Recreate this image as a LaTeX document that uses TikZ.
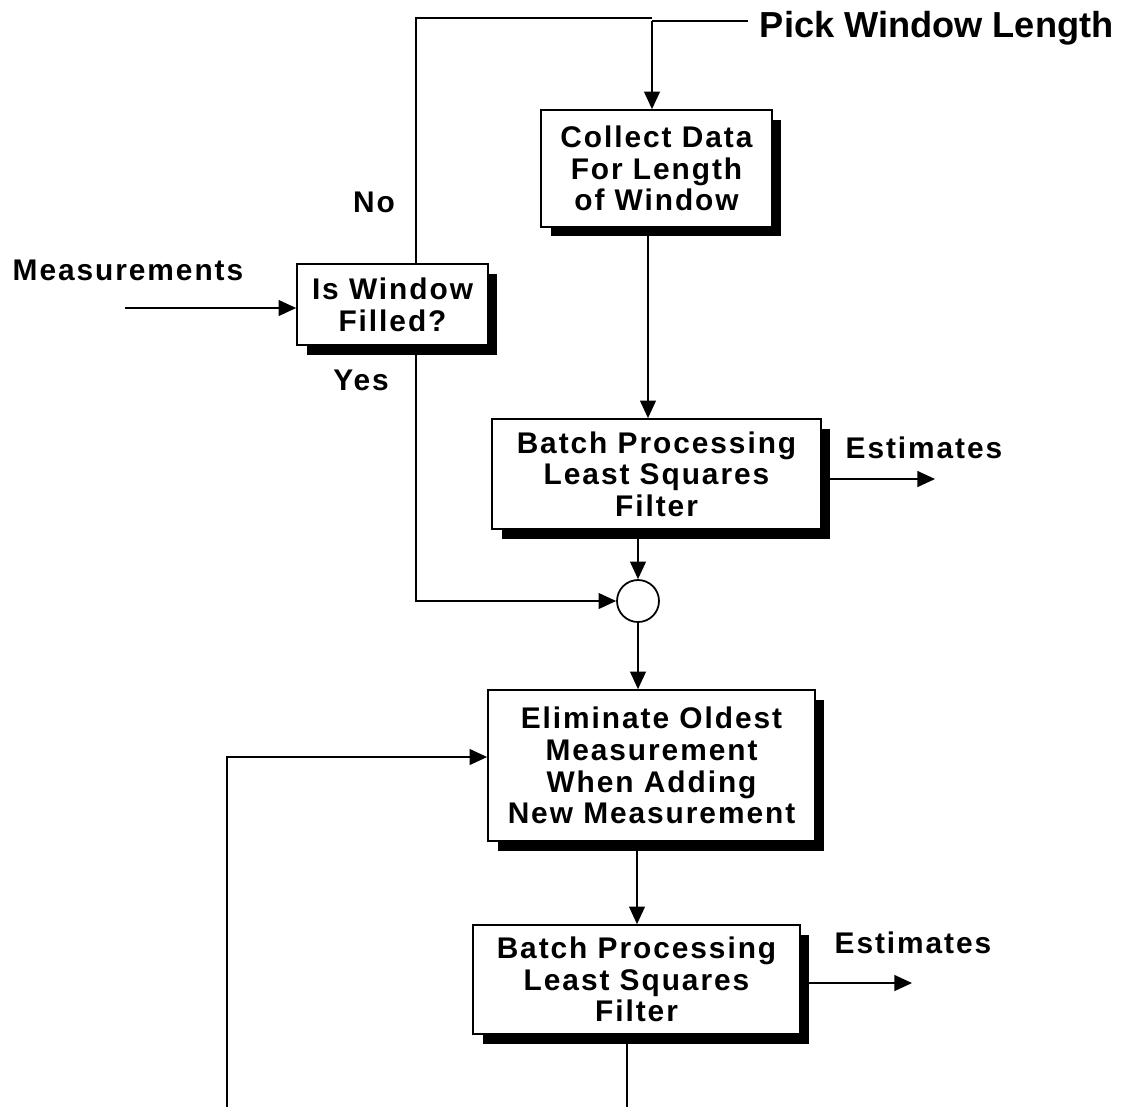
\documentclass[tikz,border=0pt]{standalone}
\usepackage{fontspec}
\setmainfont{Liberation Sans}
\newfontfamily\spacedfont{Liberation Sans}[LetterSpace=6.5]
\usetikzlibrary{arrows.meta,shadows}

\begin{document}
\begin{tikzpicture}[
    x=0.02cm,y=-0.02cm,
    font=\spacedfont\bfseries\fontsize{17}{18}\selectfont,
    >={Triangle[length=10pt,width=9pt]},
    line width=1pt,
    box/.style={rectangle,draw,fill=white,align=center,inner sep=2pt,
        drop shadow={shadow xshift=.19cm,shadow yshift=-.19cm,fill=black,opacity=1}},
    sum/.style={circle,draw,fill=white,minimum size=.84cm,inner sep=0pt},
    lbl/.style={inner sep=0pt},
    ]
    \useasboundingbox[fill=white] (0,0) rectangle (1125,1107);

    \node[box,minimum width=4.62cm,minimum height=2.34cm] (collect) at (656.5,168.5) {Collect Data\\For Length\\of Window};
    \node[box,minimum width=3.82cm,minimum height=1.62cm] (filled) at (392.5,304.5) {Is Window\\Filled?};
    \node[box,minimum width=6.58cm,minimum height=2.2cm] (batchA) at (656.5,474) {Batch Processing\\Least Squares\\Filter};
    \node[sum] (sum) at (638,601) {};
    \node[box,minimum width=6.54cm,minimum height=3.02cm] (elim) at (651.5,765.5) {Eliminate Oldest\\Measurement\\When Adding\\New Measurement};
    \node[box,minimum width=6.54cm,minimum height=2.18cm] (batchB) at (636.5,979.5) {Batch Processing\\Least Squares\\Filter};

    \node[lbl,anchor=west,font=\bfseries\fontsize{20.6}{24}\selectfont] (pick) at (759,28) {Pick Window Length};
    \node[lbl] (meas) at (128,270) {Measurements};
    \node[lbl] (no) at (374,202) {No};
    \node[lbl] (yes) at (361,380) {Yes};
    \node[lbl] (estAlbl) at (924,448) {Estimates};
    \node[lbl] (estBlbl) at (913,943) {Estimates};

    \coordinate (tl) at (416,18);
    \coordinate (tr) at (652,18);
    \coordinate (tick) at (652,21);
    \coordinate (tickend) at (748,21);
    \coordinate (va) at (648,0);
    \coordinate (vb) at (637,0);
    \coordinate (vc) at (627,1107);
    \coordinate (measin) at (125,308);
    \coordinate (estA) at (935,479);
    \coordinate (estB) at (912,983);
    \coordinate (fbbot) at (227,1107);
    \coordinate (fbtop) at (227,757);

    \draw (filled.north -| tl) -- (tl) -- (tr);
    \draw (tickend) -- (tick);
    \draw[->] (tick) -- (collect.north -| tick);
    \draw[->] (collect.south -| va) -- (batchA.north -| va);
    \draw[->] (measin) -- (filled.west |- measin);
    \draw[->] (filled.south -| tl) |- (sum.west);
    \draw[->] (batchA.south -| sum) -- (sum.north);
    \draw[->] (batchA.east |- estA) -- (estA);
    \draw[->] (sum.south) -- (elim.north -| sum);
    \draw[->] (fbbot) -- (fbtop) -- (elim.west |- fbtop);
    \draw[->] (elim.south -| vb) -- (batchB.north -| vb);
    \draw[->] (batchB.east |- estB) -- (estB);
    \draw (batchB.south -| vc) -- (vc);
\end{tikzpicture}
\end{document}
